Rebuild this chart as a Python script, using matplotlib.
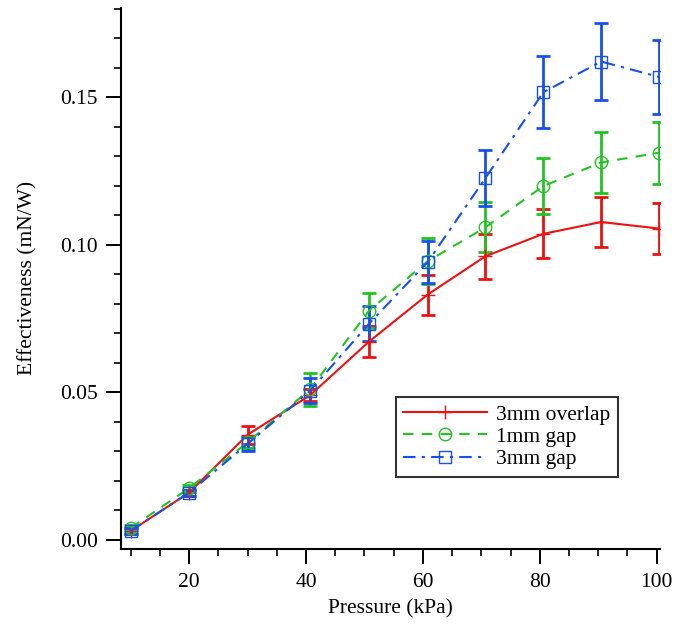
import numpy as np
import matplotlib
matplotlib.use("Agg")
import matplotlib.pyplot as plt
from matplotlib.ticker import MultipleLocator, FormatStrFormatter

plt.rcParams["font.family"] = ["Liberation Serif", "DejaVu Serif"]

# pressure (kPa)
pressure = [10, 20, 30, 40.7, 50.8, 60.8, 70.7, 80.6, 90.5, 100.4]

# effectiveness (mN/W) and error bars
overlap_3mm = [0.003, 0.016, 0.0356, 0.049, 0.0672, 0.0831, 0.0961, 0.1037, 0.1077, 0.1055]
overlap_3mm_err = [0.001, 0.001, 0.003, 0.002, 0.0053, 0.0068, 0.0077, 0.0083, 0.0086, 0.0085]

gap_1mm = [0.004, 0.0175, 0.033, 0.051, 0.0777, 0.0944, 0.1059, 0.1199, 0.1279, 0.1312]
gap_1mm_err = [0.001, 0.0012, 0.002, 0.0055, 0.006, 0.0078, 0.0085, 0.0095, 0.0102, 0.0105]

gap_3mm = [0.003, 0.016, 0.0325, 0.0505, 0.0733, 0.0941, 0.1226, 0.1517, 0.1621, 0.1569]
gap_3mm_err = [0.001, 0.001, 0.0025, 0.0042, 0.0058, 0.0072, 0.0095, 0.0122, 0.013, 0.0125]

labels = ["3mm overlap", "1mm gap", "3mm gap"]
colors = ["#ee1111", "#22c322", "#1750ee"]

fig = plt.figure(figsize=(6.75, 6.27), dpi=100)
ax = fig.add_axes([0.1788, 0.125, 0.799, 0.862])

series = [(overlap_3mm, overlap_3mm_err, "-", "+", 10, None),
          (gap_1mm, gap_1mm_err, "--", "o", 9, (5, 4)),
          (gap_3mm, gap_3mm_err, "-.", "s", 8.5, (6, 3, 1.5, 3))]
handles = []
for (y, e, ls, mk, ms, dash), lab, c in zip(series, labels, colors):
    ax.errorbar(pressure, y, yerr=e, fmt="none", ecolor=c, elinewidth=2,
                capsize=4.8, capthick=2, zorder=2)
    line, = ax.plot(pressure, y, ls, color=c, lw=1.5, marker=mk, ms=ms,
                    mfc="none", mec=c, mew=1.0, label=lab, zorder=3)
    if dash is not None:
        line.set_dashes(dash)
    handles.append(line)

ax.set_xlim(8.29, 100.57)
ax.set_ylim(-0.003, 0.1802)
ax.xaxis.set_major_locator(MultipleLocator(20))
ax.xaxis.set_minor_locator(MultipleLocator(5))
ax.yaxis.set_major_locator(MultipleLocator(0.05))
ax.yaxis.set_minor_locator(MultipleLocator(0.01))
ax.yaxis.set_major_formatter(FormatStrFormatter("%.2f"))
ax.spines["top"].set_visible(False)
ax.spines["right"].set_visible(False)
for s in ("left", "bottom"):
    ax.spines[s].set_linewidth(1.5)
ax.tick_params(which="major", direction="out", length=10.5, width=1.4, labelsize=15.5)
ax.tick_params(axis="x", which="major", pad=7)
ax.tick_params(axis="y", which="major", pad=6)
ax.tick_params(which="minor", direction="out", length=5.3, width=1.2)

ax.set_xlabel("Pressure (kPa)", fontsize=15.5, labelpad=5)
ax.set_ylabel("Effectiveness (mN/W)", fontsize=15.5, labelpad=16)

leg = ax.legend(handles=handles, loc="lower left", bbox_to_anchor=(0.51, 0.133),
                handlelength=3.9, fontsize=15.5, frameon=True, fancybox=False,
                borderpad=0.35, labelspacing=0.1, handletextpad=0.4,
                borderaxespad=0)
leg.get_frame().set_edgecolor("black")
leg.get_frame().set_linewidth(1.5)

fig.savefig("out.png", dpi=100)
